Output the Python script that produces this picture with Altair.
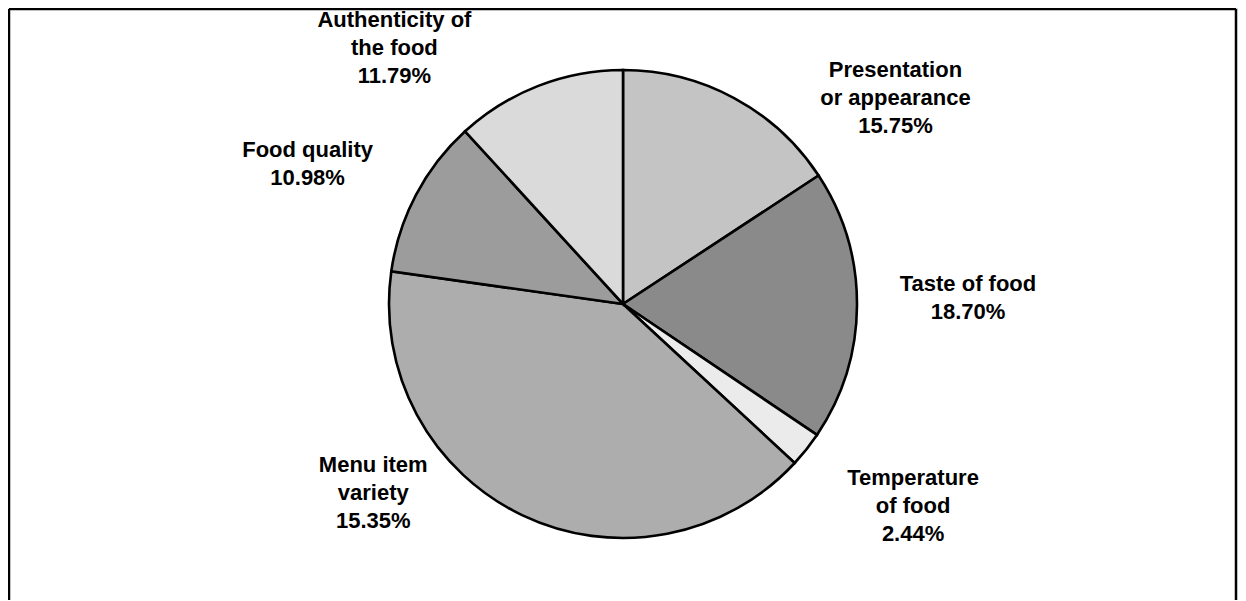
import altair as alt
import pandas as pd

# ---- data ----
categories = [
    "Presentation or appearance",
    "Taste of food",
    "Temperature of food",
    "Menu item variety",
    "Food quality",
    "Authenticity of the food",
]
# slice sizes as drawn (share of the circle, %)
values = [15.75, 18.70, 2.44, 40.34, 10.98, 11.79]
# label texts as printed on the chart
labels = [
    "Presentation\nor appearance\n15.75%",
    "Taste of food\n18.70%",
    "Temperature\nof food\n2.44%",
    "Menu item\nvariety\n15.35%",
    "Food quality\n10.98%",
    "Authenticity of\nthe food\n11.79%",
]
fills = ["#c4c4c4", "#8a8a8a", "#ebebeb", "#adadad", "#9c9c9c", "#dadada"]

df = pd.DataFrame({
    "idx": list(range(len(categories))),
    "category": categories,
    "value": values,
    "label": labels,
})
df["mid"] = df["value"].cumsum() - df["value"] / 2
total = float(sum(values))

W, H = 1230, 592
FONT = "Liberation Sans, Arial, sans-serif"

theta_scale = alt.Scale(domain=[0, total])

arcs = alt.Chart(df).mark_arc(
    radius=234, stroke="black", strokeWidth=2.6
).encode(
    theta=alt.Theta("value:Q", stack=True, scale=theta_scale),
    order=alt.Order("idx:Q"),
    color=alt.Color("category:N", scale=alt.Scale(domain=categories, range=fills), legend=None),
)

# label placement offsets (relative to an anchor at the slice's mid-angle)
offsets = {
    "Presentation or appearance": (130, 30),
    "Taste of food": (45, -22),
    "Temperature of food": (55, -12),
    "Menu item variety": (-121, -110),
    "Food quality": (-50, -14),
    "Authenticity of the food": (-120, -4),
}

text_layers = []
for cat in categories:
    dx, dy = offsets[cat]
    t = alt.Chart(df).transform_filter(
        alt.datum.category == cat
    ).mark_text(
        radius=300, dx=dx, dy=dy, align="center", baseline="middle",
        lineBreak="\n", lineHeight=28, font=FONT, fontSize=22,
        fontWeight="bold", color="black",
    ).encode(
        theta=alt.Theta("mid:Q", scale=theta_scale),
        text="label:N",
    )
    text_layers.append(t)

frame_df = pd.DataFrame({"a": [0]})
frame_left = alt.Chart(frame_df).mark_rule(color="black", strokeWidth=2.5).encode(
    x=alt.value(1), y=alt.value(1), y2=alt.value(H))
frame_top = alt.Chart(frame_df).mark_rule(color="black", strokeWidth=2.5).encode(
    x=alt.value(1), x2=alt.value(W - 2), y=alt.value(1))
frame_right = alt.Chart(frame_df).mark_rule(color="black", strokeWidth=2.5).encode(
    x=alt.value(W - 2), y=alt.value(1), y2=alt.value(H))

chart = alt.layer(arcs, *text_layers, frame_left, frame_top, frame_right).properties(
    width=W, height=H, padding=0,
    autosize=alt.AutoSizeParams(type="none"),
).configure_view(stroke="transparent", strokeWidth=0).configure(background="white")

chart.save("out.html", embed_options={"renderer": "svg", "actions": False})
